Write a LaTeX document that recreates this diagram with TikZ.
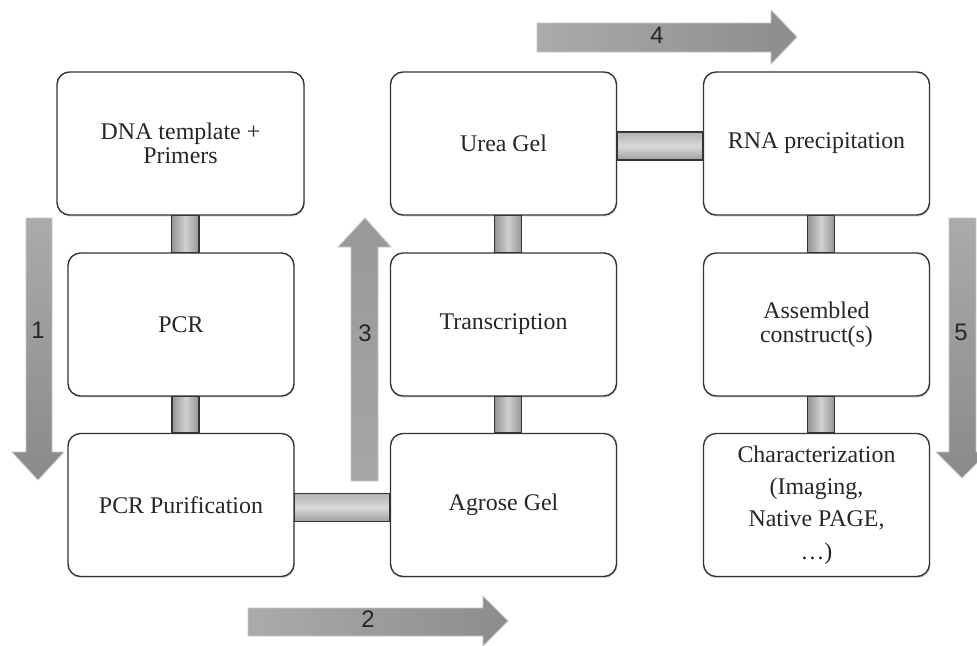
\documentclass[tikz,border=0pt]{standalone}
\usepackage{fontspec}
\setmainfont{Liberation Serif}
\newfontfamily\numfont{Liberation Sans}
\usetikzlibrary{calc,shadows}

\begin{document}
\begin{tikzpicture}[x=0.025cm, y=-0.025cm,
  stage/.style={draw=black!80, line width=1pt, rounded corners=9pt, fill=white,
    minimum width=5.65cm, minimum height=3.575cm, align=center, inner sep=0pt,
    text=black!85, font=\fontsize{17}{17}\selectfont,
    drop shadow={shadow xshift=0.6pt, shadow yshift=-1.2pt, opacity=0.25}},
  vbar/.style={draw=black!80, line width=1pt,
    left color=black!42, right color=black!42, middle color=black!18},
  hbar/.style={draw=black!80, line width=1pt,
    top color=black!30, bottom color=black!38, middle color=black!15},
  flow/.style={draw=black!22, line width=0.6pt},
  num/.style={font=\numfont\fontsize{17}{17}\selectfont, text=black!85, inner sep=0pt}]

  \useasboundingbox (0,0) rectangle (977,645);

  \shade[flow, top color=black!33, bottom color=black!46]
    (26,218) -- (52,218) -- (52,452) -- (64,452) -- (38,480) -- (12,452) -- (26,452) -- cycle;
  \shade[flow, left color=black!33, right color=black!45]
    (248,608) -- (483,608) -- (483,596) -- (508,621) -- (483,646) -- (483,636) -- (248,636) -- cycle;
  \shade[flow, top color=black!40, bottom color=black!35]
    (351,481) -- (378,481) -- (378,247) -- (391,247) -- (365,218) -- (338,247) -- (351,247) -- cycle;
  \shade[flow, left color=black!33, right color=black!45]
    (537,23) -- (771,23) -- (771,10) -- (797,37) -- (771,64) -- (771,52) -- (537,52) -- cycle;
  \shade[flow, top color=black!33, bottom color=black!46]
    (949,218) -- (976,218) -- (976,452) -- (988,452) -- (962,478) -- (936,452) -- (949,452) -- cycle;

  \node[num] (n1) at (38,330) {1};
  \node[num] (n2) at (368,619) {2};
  \node[num] (n3) at (365,333) {3};
  \node[num] (n4) at (657,35) {4};
  \node[num] (n5) at (961,332) {5};

  \node[stage, minimum width=6.175cm] (dna) at (180.5,143.5) {DNA template +\\Primers};
  \node[stage] (pcr) at (181,324.5) {PCR};
  \node[stage] (pur) at (181,505) {PCR Purification};
  \node[stage] (urea) at (503.5,143.5) {Urea Gel};
  \node[stage] (trs) at (503.5,324.5) {Transcription};
  \node[stage] (agr) at (503.5,505) {Agrose Gel};
  \node[stage] (rna) at (816.5,143.5) {RNA precipitation};
  \node[stage] (asm) at (816.5,324.5) {Assembled\\construct(s)};
  \node[stage] (chr) at (816.5,505)
    {Characterization\\[6pt](Imaging,\\[6pt]Native PAGE,\\[6pt]\dots)};

  \foreach \a/\b in {dna/pcr, pcr/pur, urea/trs, trs/agr, rna/asm, asm/chr}
    \shade[vbar] ($(\a.south)+(-9,0)$) rectangle ($(\b.north)+(18,0)$);
  \foreach \a/\b in {pur/agr, urea/rna}
    \shade[hbar] ($(\a.east)+(0,-11.5)$) rectangle ($(\b.west)+(0,16.5)$);
\end{tikzpicture}
\end{document}
